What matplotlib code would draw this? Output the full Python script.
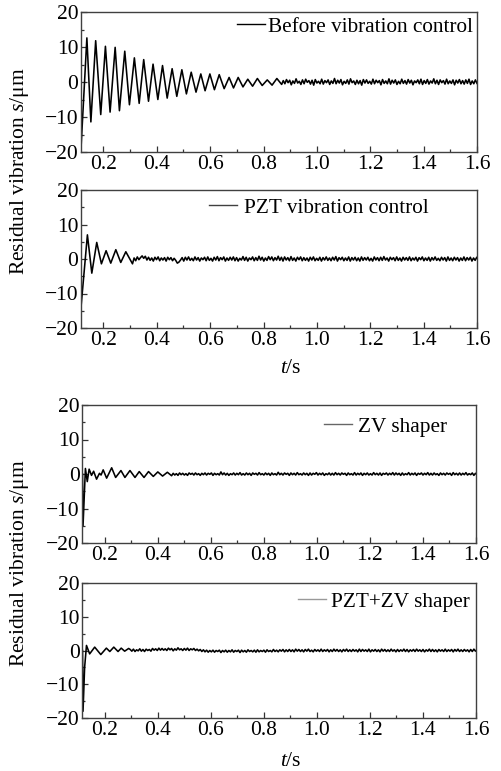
"""Residual vibration before/after control, four stacked panels"""

import numpy as np
from matplotlib import pyplot as plt
from matplotlib.ticker import MultipleLocator

plt.rcParams['font.family'] = 'Liberation Serif'
plt.rcParams['mathtext.fontset'] = 'custom'
plt.rcParams['mathtext.rm'] = 'Liberation Serif'
plt.rcParams['mathtext.it'] = 'Liberation Serif:italic'

##############
### inputs ###
##############

labels = ['Before vibration control', 'PZT vibration control',
          'ZV shaper', 'PZT+ZV shaper']
legend_colors = ['black', '0.25', '0.4', '0.6']

# early transient, read as turning points (t in s, s in um)
t_before = [0.116, 0.138, 0.153, 0.171, 0.190, 0.2075, 0.225, 0.244, 0.260,
            0.280, 0.2975, 0.316, 0.334, 0.351, 0.369, 0.386, 0.404, 0.4215,
            0.439, 0.4575, 0.475, 0.494, 0.511, 0.529, 0.547, 0.565, 0.581,
            0.599, 0.616, 0.634, 0.6525, 0.671, 0.6875, 0.705, 0.723, 0.741,
            0.759, 0.777, 0.795, 0.814, 0.832, 0.850, 0.868]
s_before = [-19, 12.6, -11.4, 11.8, -9.3, 10.2, -8.6, 9.9, -8.2, 8.8, -6.5,
            6.9, -6.1, 6.4, -5.5, 5.1, -5.0, 4.7, -4.6, 3.8, -4.1, 3.5, -3.4,
            2.8, -2.9, 2.3, -2.5, 2.3, -2.2, 2.1, -1.9, 1.3, -1.7, 1.3, -1.4,
            0.8, -1.2, 1.0, -1.0, 0.6, -0.9, 1.0, -0.7]

t_pzt = [0.116, 0.140, 0.1565, 0.175, 0.1925, 0.210, 0.2275, 0.2465, 0.265,
         0.284, 0.309]
s_pzt = [-14.0, 7.0, -4.1, 4.8, -1.4, 2.4, -1.2, 2.7, -1.0, 2.1, -1.4]

t_zv = [0.116, 0.118, 0.127, 0.134, 0.141, 0.150, 0.158, 0.169, 0.180, 0.186,
        0.194, 0.207, 0.226, 0.241, 0.261, 0.276, 0.295, 0.314, 0.330, 0.348,
        0.365, 0.383, 0.400, 0.418, 0.436, 0.452]
s_zv = [0.0, -15.0, 1.6, -2.2, 1.4, -0.4, 0.8, -1.5, 0.2, -0.3, 1.2, -1.2,
        1.8, -1.0, 1.0, -1.0, 1.0, -1.0, 0.7, -1.0, 0.7, -0.7, 0.6, -0.6,
        0.5, -0.5]

t_both = [0.116, 0.118, 0.124, 0.131, 0.143, 0.162, 0.185, 0.206, 0.219,
          0.234, 0.250, 0.262, 0.275, 0.290]
s_both = [0.0, -18.0, -5.0, 1.5, -1.0, 1.0, -1.2, 0.7, -0.3, 1.0, -0.3, 0.7,
          -0.2, 0.6]

# steady-state noise, sampled every 0.006 s from the given start
tail_step = 0.006
tail_start = [0.874, 0.315, 0.458, 0.296]
noise_before = [
    0.4, -0.5, 0.7, -0.2, 0.5, -0.8, 0.3, -0.4, 0.9, -0.3, 0.2, -0.7, 0.6, -0.5, 0.8, -0.1, 0.4, -0.6, 0.5, -0.9,
    0.7, -0.3, 0.2, -0.5, 0.8, -0.6, 0.4, -0.2, 0.6, -0.7, 0.3, -0.4, 1.0, -0.5, 0.5, -0.3, 0.7, -0.8, 0.2, -0.4,
    0.6, -0.6, 0.9, -0.2, 0.3, -0.7, 0.5, -0.5, 0.4, -0.9, 0.7, -0.3, 0.6, -0.4, 0.2, -0.6, 0.8, -0.5, 0.5, -0.2,
    0.4, -0.8, 0.7, -0.4, 0.3, -0.5, 0.9, -0.6, 0.5, -0.3, 0.6, -0.7, 0.2, -0.5, 0.8, -0.4, 0.4, -0.6, 0.7, -0.3,
    0.5, -0.8, 0.3, -0.2, 0.6, -0.5, 0.8, -0.7, 0.4, -0.4, 0.7, -0.6, 0.3, -0.3, 0.9, -0.5, 0.5, -0.7, 0.6, -0.2,
    0.4, -0.6, 0.8, -0.5, 0.3, -0.4, 0.6, -0.8, 0.5, -0.3, 0.7, -0.5, 0.4, -0.6, 0.6, -0.4, 0.8, -0.7, 0.3, -0.5,
    0.6, -0.4]
noise_pzt = [
    0.3, -0.5, 0.6, -0.2, 0.4, 0.9, 0.2, 0.8, -0.3, 0.5, -0.4, 0.3, -0.6, 0.5, -0.2, 0.6, -0.5, 0.3, -0.3, 0.4,
    -0.6, 0.5, -0.2, 0.4, -0.5, 0.2, -0.4, -1.2, -0.9, -0.3, 0.4, -0.6, 0.5, -0.3, 0.6, -0.4, 0.2, -0.5, 0.6, -0.3,
    0.4, -0.6, 0.3, -0.2, 0.5, -0.5, 0.6, -0.4, 0.2, -0.6, 0.5, -0.3, 0.7, -0.5, 0.4, -0.2, 0.6, -0.6, 0.3, -0.4,
    0.5, -0.3, 0.6, -0.5, 0.4, -0.6, 0.2, -0.3, 0.7, -0.4, 0.5, -0.6, 0.3, -0.2, 0.6, -0.5, 0.4, -0.4, 0.8, -0.3,
    0.5, -0.6, 0.3, -0.4, 0.7, -0.2, 0.6, -0.5, 0.4, -0.3, 0.8, -0.4, 0.5, -0.6, 0.6, -0.3, 0.4, -0.5, 0.7, -0.4,
    0.3, -0.6, 0.5, -0.2, 0.6, -0.5, 0.4, -0.4, 0.3, -0.6, 0.5, -0.3, 0.6, -0.5, 0.2, -0.4, 0.5, -0.6, 0.4, -0.3,
    0.6, -0.4, 0.3, -0.5, 0.5, -0.3, 0.7, -0.6, 0.4, -0.2, 0.5, -0.5, 0.3, -0.4, 0.6, -0.6, 0.4, -0.3, 0.5, -0.5,
    0.3, -0.6, 0.6, -0.4, 0.4, -0.3, 0.5, -0.5, 0.2, -0.6, 0.6, -0.3, 0.4, -0.5, 0.5, -0.4, 0.7, -0.3, 0.3, -0.6,
    0.5, -0.2, 0.4, -0.5, 0.6, -0.4, 0.3, -0.6, 0.5, -0.3, 0.4, -0.4, 0.6, -0.5, 0.3, -0.3, 0.5, -0.6, 0.4, -0.2,
    0.6, -0.5, 0.3, -0.4, 0.5, -0.6, 0.4, -0.3, 0.6, -0.4, 0.2, -0.5, 0.5, -0.3, 0.4, -0.6, 0.6, -0.4, 0.3, -0.5,
    0.5, -0.3, 0.4, -0.6, 0.3, -0.4, 0.6, -0.5, 0.4, -0.3, 0.5, -0.6, 0.3, -0.4, 0.5, -0.3]
noise_zv = [
    0.2, -0.3, 0.1, -0.4, 0.3, -0.2, 0.2, -0.3, 0.1, -0.4, 0.3, -0.1, 0.2, -0.3, 0.3, -0.2, 0.1, -0.4, 0.2, -0.2,
    0.3, -0.3, 0.2, -0.1, 0.3, -0.4, 0.2, -0.2, 0.1, -0.3, 0.6, -0.2, 0.3, -0.3, 0.2, -0.4, 0.1, -0.2, 0.3, -0.3,
    0.2, -0.2, 0.4, -0.3, 0.1, -0.3, 0.3, -0.2, 0.2, -0.4, 0.3, -0.1, 0.2, -0.3, 0.4, -0.2, 0.1, -0.3, 0.3, -0.2,
    0.2, -0.4, 0.3, -0.2, 0.1, -0.3, 0.5, -0.2, 0.2, -0.3, 0.3, -0.1, 0.2, -0.4, 0.3, -0.2, 0.2, -0.3, 0.4, -0.2,
    0.1, -0.3, 0.3, -0.2, 0.2, -0.4, 0.3, -0.3, 0.2, -0.1, 0.4, -0.3, 0.2, -0.2, 0.3, -0.4, 0.1, -0.2, 0.3, -0.3,
    0.2, -0.3, 0.4, -0.2, 0.2, -0.3, 0.3, -0.1, 0.2, -0.4, 0.3, -0.2, 0.1, -0.3, 0.4, -0.3, 0.2, -0.2, 0.3, -0.4,
    0.2, -0.2, 0.3, -0.3, 0.1, -0.3, 0.4, -0.2, 0.2, -0.3, 0.3, -0.4, 0.2, -0.1, 0.3, -0.3, 0.2, -0.2, 0.4, -0.3,
    0.3, -0.2, 0.2, -0.4, 0.3, -0.3, 0.1, -0.2, 0.4, -0.3, 0.2, -0.2, 0.3, -0.4, 0.2, -0.1, 0.3, -0.3, 0.2, -0.2,
    0.4, -0.3, 0.2, -0.3, 0.3, -0.2, 0.1, -0.4, 0.3, -0.2, 0.2, -0.3, 0.3, -0.1, 0.2, -0.4, 0.4, -0.2, 0.2, -0.3,
    0.3, -0.3, 0.2, -0.2, 0.4, -0.3, 0.1, -0.2, 0.3, -0.4, 0.2, -0.2]
noise_both = [
    0.3, -0.2, 0.4, -0.3, 0.2, -0.1, 0.5, -0.2, 0.3, -0.3, 0.4, 0.0, 0.3, -0.2, 0.6, 0.1, 0.5, 0.0, 0.7, 0.1,
    0.6, 0.1, 0.5, 0.0, 0.7, 0.2, 0.6, -0.1, 0.5, 0.1, 0.8, 0.2, 0.5, 0.0, 0.6, 0.1, 0.7, 0.0, 0.5, 0.2,
    0.6, 0.0, 0.4, -0.1, 0.3, -0.3, 0.2, -0.4, 0.1, -0.5, 0.0, -0.4, 0.1, -0.5, 0.0, -0.3, 0.1, -0.6, 0.0, -0.4,
    0.1, -0.5, 0.0, -0.4, 0.2, -0.5, 0.0, -0.3, 0.1, -0.6, 0.1, -0.4, 0.0, -0.5, 0.2, -0.3, 0.0, -0.4, 0.1, -0.5,
    0.2, -0.4, 0.0, -0.3, 0.1, -0.5, 0.2, -0.3, 0.0, -0.4, 0.3, -0.3, 0.1, -0.4, 0.2, -0.2, 0.3, -0.4, 0.2, -0.3,
    0.3, -0.3, 0.2, -0.4, 0.4, -0.2, 0.3, -0.3, 0.2, -0.4, 0.3, -0.2, 0.4, -0.3, 0.1, -0.4, 0.3, -0.2, 0.2, -0.3,
    0.4, -0.3, 0.2, -0.2, 0.3, -0.4, 0.2, -0.3, 0.4, -0.2, 0.3, -0.3, 0.2, -0.4, 0.3, -0.2, 0.4, -0.3, 0.2, -0.3,
    0.3, -0.2, 0.2, -0.4, 0.4, -0.3, 0.3, -0.2, 0.2, -0.3, 0.4, -0.4, 0.2, -0.2, 0.3, -0.3, 0.2, -0.4, 0.4, -0.2,
    0.3, -0.3, 0.2, -0.3, 0.4, -0.2, 0.2, -0.4, 0.3, -0.3, 0.2, -0.2, 0.4, -0.3, 0.3, -0.4, 0.2, -0.2, 0.3, -0.3,
    0.4, -0.2, 0.2, -0.3, 0.3, -0.4, 0.2, -0.2, 0.4, -0.3, 0.3, -0.3, 0.2, -0.4, 0.3, -0.2, 0.2, -0.3, 0.4, -0.3,
    0.2, -0.2, 0.3, -0.4, 0.3, -0.2, 0.4, -0.3, 0.2, -0.3, 0.3, -0.2, 0.2, -0.4, 0.3, -0.3, 0.4, -0.2, 0.3]

x_ticks = [0.2, 0.4, 0.6, 0.8, 1.0, 1.2, 1.4, 1.6]
y_ticks = [-20, -10, 0, 10, 20]

############
### MAIN ###
############

W, H = 502, 771
fig = plt.figure(figsize=(W / 100, H / 100), dpi=100)

# axes boxes in pixels: left, right, top, bottom
boxes = [(81, 477, 12, 152), (81, 477, 190, 328),
         (82.5, 476, 405, 543), (82.5, 476, 583, 718)]
# legend anchor (axes fraction) and handle/text gap
leg_pos = [(0.394, 0.893, 0.14), (0.323, 0.870, 0.36),
           (0.614, 0.843, 0.28), (0.548, 0.861, 0.23)]

transients = [(t_before, s_before), (t_pzt, s_pzt), (t_zv, s_zv), (t_both, s_both)]
noises = [noise_before, noise_pzt, noise_zv, noise_both]

for i in range(4):
    l, r, top, bot = boxes[i]
    ax = fig.add_axes([l / W, 1 - bot / H, (r - l) / W, (bot - top) / H])
    t_tail = tail_start[i] + tail_step * np.arange(len(noises[i]))
    t = np.concatenate([transients[i][0], t_tail])
    s = np.concatenate([transients[i][1], noises[i]])
    ax.plot(t, s, color='black', lw=1.15)

    ax.set_xlim(0.116, 1.6)
    ax.set_ylim(-20, 20)
    ax.set_xticks(x_ticks)
    ax.set_yticks(y_ticks)
    ax.xaxis.set_minor_locator(MultipleLocator(0.1))
    ax.yaxis.set_minor_locator(MultipleLocator(5))
    ax.tick_params(which='both', direction='in', top=False, right=False,
                   labelsize=15.5, width=0.9, color='0.2')
    ax.tick_params(which='major', length=4, pad=2)
    ax.tick_params(which='minor', length=2.5)
    for sp in ax.spines.values():
        sp.set_color('0.25')
        sp.set_linewidth(1.0)

    # legend: only a line sample and its name, no frame
    hx, hy, pad = leg_pos[i]
    h, = ax.plot([], [], color=legend_colors[i], lw=1.0)
    ax.legend([h], [labels[i]], loc='center left', bbox_to_anchor=(hx, hy),
              frameon=False, fontsize=15.3, borderpad=0, borderaxespad=0,
              handlelength=1.3, handletextpad=pad)

# shared labels for each pair of panels
ylab = 'Residual vibration $s$/\u03bcm'
fig.text(20 / W, 1 - 171 / H, ylab, rotation=90, ha='center', va='center', fontsize=15.5)
fig.text(20 / W, 1 - 563 / H, ylab, rotation=90, ha='center', va='center', fontsize=15.5)
fig.text(291 / W, 1 - 368 / H, '$t$/s', ha='center', va='center', fontsize=15.5)
fig.text(291 / W, 1 - 762 / H, '$t$/s', ha='center', va='center', fontsize=15.5)

fig.savefig('out.png', dpi=100)
